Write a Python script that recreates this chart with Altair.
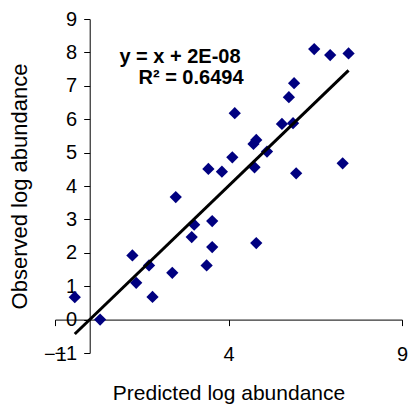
import altair as alt
import pandas as pd

predicted = [-0.43, 0.30, 1.23, 1.34, 1.71, 1.81, 2.38, 2.48, 2.94, 3.01,
             3.37, 3.42, 3.53, 3.53, 3.81, 4.11, 4.18, 4.72, 4.80, 4.75,
             4.80, 5.11, 5.54, 5.74, 5.86, 5.89, 5.95, 6.47, 6.93, 7.29, 7.46]
observed = [0.67, 0.00, 1.92, 1.10, 1.62, 0.68, 1.40, 3.67, 2.47, 2.84,
            1.62, 4.51, 2.95, 2.17, 4.43, 4.86, 6.18, 5.26, 5.38, 4.56,
            2.29, 5.03, 5.86, 6.66, 5.88, 7.08, 4.38, 8.10, 7.92, 4.68, 7.97]
slope = 1.0
intercept = 2e-08
eq_text = "y = x + 2E-08"
r2_text = "R\u00b2 = 0.6494"
x_ticks = [-1, 4, 9]
y_ticks = [-1, 0, 1, 2, 3, 4, 5, 6, 7, 8, 9]

FONT = "Liberation Sans"
W, H = 347, 334

df = pd.DataFrame({"pred": predicted, "obs": observed})
xmin, xmax = min(predicted), max(predicted)
trend = pd.DataFrame({"pred": [xmin, xmax],
                      "obs": [slope * xmin + intercept, slope * xmax + intercept]})

xscale = alt.Scale(domain=[-1, 9], nice=False, zero=False)
yscale = alt.Scale(domain=[-1, 9], nice=False, zero=False)

xaxis = alt.Axis(values=x_ticks, grid=False, offset=-(H / 10), tickSize=6,
                 domainColor="black", tickColor="black", domainWidth=1, tickWidth=1,
                 labelFont=FONT, labelFontSize=20, labelColor="black", labelPadding=19,
                 labelFlush=False, labelOverlap=False, labelBound=False,
                 title="Predicted log abundance", titleFont=FONT, titleFontSize=21,
                 titleFontWeight="normal", titleColor="black",
                 titleX=W / 2, titleY=80, titleBaseline="alphabetic", titleAlign="center")
yaxis = alt.Axis(values=y_ticks, grid=False, offset=-(W / 10), tickSize=6,
                 domainColor="black", tickColor="black", domainWidth=1, tickWidth=1,
                 labelFont=FONT, labelFontSize=20, labelColor="black", labelPadding=7,
                 labelFlush=False, labelOverlap=False, labelBound=False,
                 labelSeparation=0,
                 title="Observed log abundance", titleFont=FONT, titleFontSize=22,
                 titleFontWeight="normal", titleColor="black",
                 titleX=-63, titleY=H / 2, titleAngle=270,
                 titleBaseline="alphabetic", titleAlign="center")

points = alt.Chart(df).mark_point(shape="diamond", filled=True, size=150,
                                  color="#000080", opacity=1).encode(
    x=alt.X("pred:Q", scale=xscale, axis=xaxis),
    y=alt.Y("obs:Q", scale=yscale, axis=yaxis),
)

line = alt.Chart(trend).mark_line(color="black", strokeWidth=3).encode(
    x=alt.X("pred:Q", scale=xscale, axis=xaxis),
    y=alt.Y("obs:Q", scale=yscale, axis=yaxis),
)

eq = alt.Chart(pd.DataFrame({"t": [eq_text]})).mark_text(
    font=FONT, fontSize=20, fontWeight="bold", color="black",
    align="center", baseline="alphabetic").encode(
    x=alt.value(125), y=alt.value(43.5), text="t:N")

r2 = alt.Chart(pd.DataFrame({"t": [r2_text]})).mark_text(
    font=FONT, fontSize=20, fontWeight="bold", color="black",
    align="center", baseline="alphabetic").encode(
    x=alt.value(136), y=alt.value(64.5), text="t:N")

chart = alt.layer(points, line, eq, r2).properties(
    width=W, height=H,
    autosize=alt.AutoSizeParams(type="none"),
    padding={"left": 55, "top": 19, "right": 6, "bottom": 51},
).configure_view(stroke=None).configure_axis(labelOverlap=False)

chart.save("out.html", embed_options={"renderer": "svg", "actions": False})
